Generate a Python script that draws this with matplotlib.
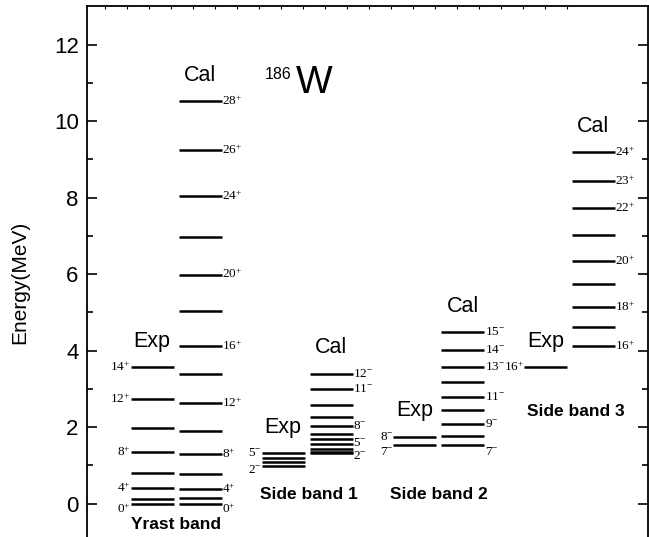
import matplotlib
matplotlib.use('Agg')
import matplotlib.pyplot as plt
import numpy as np

plt.rcParams['font.family'] = ['Liberation Sans', 'DejaVu Sans']
plt.rcParams['mathtext.fontset'] = 'custom'
plt.rcParams['mathtext.rm'] = 'Liberation Serif'
plt.rcParams['mathtext.it'] = 'Liberation Serif:italic'

# Energy levels (MeV), lowest spin first
yrast_exp = [0.0, 0.12, 0.40, 0.81, 1.35, 1.97, 2.74, 3.56]
yrast_exp_labels = ['0+', '', '4+', '', '8+', '', '12+', '14+']
yrast_cal = [0.0, 0.14, 0.38, 0.77, 1.29, 1.91, 2.62, 3.38, 4.12, 5.03, 5.99, 6.97, 8.05, 9.25, 10.52]
yrast_cal_labels = ['0+', '', '4+', '', '8+', '', '12+', '', '16+', '', '20+', '', '24+', '26+', '28+']

sb1_exp = [0.97, 1.08, 1.20, 1.31]
sb1_exp_labels = ['2-', '', '', '5-']
sb1_cal = [1.31, 1.36, 1.44, 1.55, 1.68, 1.83, 2.03, 2.27, 2.58, 3.00, 3.40]
sb1_cal_labels = ['2-', '', '', '5-', '', '', '8-', '', '', '11-', '12-']

sb2_exp = [1.52, 1.75]
sb2_exp_labels = ['7-', '8-']
sb2_cal = [1.52, 1.78, 2.08, 2.45, 2.78, 3.17, 3.58, 4.01, 4.48]
sb2_cal_labels = ['7-', '', '9-', '', '11-', '', '13-', '14-', '15-']

sb3_exp = [3.56]
sb3_exp_labels = ['16+']
sb3_cal = [4.12, 4.61, 5.15, 5.75, 6.35, 7.02, 7.72, 8.43, 9.19]
sb3_cal_labels = ['16+', '', '18+', '', '20+', '', '22+', '23+', '24+']

band_names = ['Yrast band', 'Side band 1', 'Side band 2', 'Side band 3']

fig = plt.figure(figsize=(6.49, 5.37), dpi=100)
ax = fig.add_axes([87 / 649, -0.041, 560.5 / 649, 1.029])

W = 1.075   # width of a level line
band_x = [1.625, 4.9, 8.19, 11.45]   # centre of the Exp column of each band
dx_cal = 1.2
gap = 0.005

bands = [
    (yrast_exp, yrast_exp_labels, yrast_cal, yrast_cal_labels),
    (sb1_exp, sb1_exp_labels, sb1_cal, sb1_cal_labels),
    (sb2_exp, sb2_exp_labels, sb2_cal, sb2_cal_labels),
    (sb3_exp, sb3_exp_labels, sb3_cal, sb3_cal_labels),
]

# labels that sit a bit off their line in the original
nudge = {(0, 'exp', '0+'): -0.15, (0, 'cal', '0+'): -0.15,
         (2, 'exp', '7-'): -0.18, (2, 'cal', '7-'): -0.18,
         (1, 'exp', '2-'): -0.08, (1, 'cal', '2-'): -0.07,
         (1, 'cal', '5-'): 0.04}


def spin_text(s):
    return r'$\mathrm{%s}^{%s}$' % (s[:-1], s[-1])


for i, (ex, exl, ca, cal) in enumerate(bands):
    xe = band_x[i]
    xc = xe + dx_cal
    ax.hlines(ex, xe - W / 2, xe + W / 2, color='black', lw=1.8)
    ax.hlines(ca, xc - W / 2, xc + W / 2, color='black', lw=1.8)
    for e, lab in zip(ex, exl):
        if lab:
            ax.text(xe - W / 2 - gap, e + nudge.get((i, 'exp', lab), 0), spin_text(lab),
                    ha='right', va='center', fontsize=9.5)
    for e, lab in zip(ca, cal):
        if lab:
            ax.text(xc + W / 2 + gap, e + nudge.get((i, 'cal', lab), 0), spin_text(lab),
                    ha='left', va='center', fontsize=9.5)
    ax.text(xe, max(ex) + 0.68, 'Exp', ha='center', va='center', fontsize=15.5)
    ax.text(xc, max(ca) + 0.68, 'Cal', ha='center', va='center', fontsize=15.5)

# band names
ax.text(2.225, -0.55, band_names[0], ha='center', va='center', fontsize=12.5, fontweight='bold')
ax.text(5.55, 0.24, band_names[1], ha='center', va='center', fontsize=12.5, fontweight='bold')
ax.text(8.78, 0.24, band_names[2], ha='center', va='center', fontsize=12.5, fontweight='bold')
ax.text(12.2, 2.41, band_names[3], ha='center', va='center', fontsize=12.5, fontweight='bold')

# nucleus
ax.text(5.1, 11.22, '186', ha='right', va='center', fontsize=11.5)
ax.text(5.68, 11.0, 'W', ha='center', va='center', fontsize=28)

ax.set_xlim(0, 14)
ax.set_ylim(-1.45, 13)
ax.set_yticks(np.arange(0, 13, 2))
ax.set_yticks(np.arange(1, 13, 2), minor=True)
ax.set_xticks(np.arange(12.0, 0, -0.55))
ax.tick_params(axis='y', which='major', direction='in', length=7, width=1.2,
               labelsize=16, right=True, pad=6)
ax.tick_params(axis='y', which='minor', direction='in', length=4, width=1.2, right=True)
ax.tick_params(axis='x', which='major', direction='in', length=2.5, width=0.8,
               top=True, bottom=False, labelbottom=False)
ax.set_ylabel('Energy(MeV)', fontsize=15, labelpad=18)
for sp in ax.spines.values():
    sp.set_linewidth(1.3)

fig.savefig('out.png', dpi=100)
